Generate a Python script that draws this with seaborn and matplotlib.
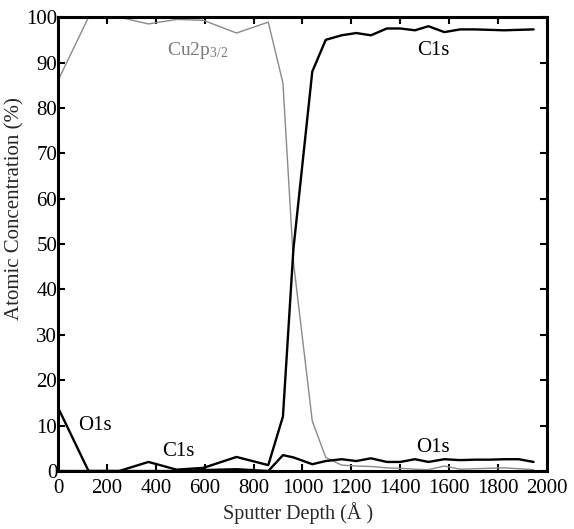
import matplotlib
matplotlib.use("Agg")
import matplotlib.pyplot as plt
import seaborn as sns
import pandas as pd

depth = [0, 125, 250, 370, 485, 595, 730, 860, 920, 963, 1040, 1095, 1160, 1220,
         1280, 1345, 1400, 1460, 1515, 1580, 1645, 1705, 1765, 1825, 1885, 1945]
cu2p = [86, 100, 100, 98.5, 99.5, 99.3, 96.5, 98.9, 85.5, 46, 11, 3.0, 1.3, 1.1,
        1.0, 0.7, 0.6, 0.4, 0.3, 1.1, 0.4, 0.5, 0.6, 0.7, 0.5, 0.3]
c1s = [0, 0, 0, 2.0, 0.3, 0.7, 3.1, 1.3, 12, 49, 88, 95, 96, 96.5,
       96, 97.5, 97.5, 97.1, 98, 96.7, 97.3, 97.3, 97.2, 97.1, 97.2, 97.3]
o1s = [14, 0, 0, 0, 0, 0.2, 0.4, 0, 3.5, 3.0, 1.5, 2.2, 2.6, 2.2,
       2.8, 2.0, 2.0, 2.6, 2.0, 2.6, 2.4, 2.5, 2.5, 2.6, 2.6, 2.0]

xticks = [0, 200, 400, 600, 800, 1000, 1200, 1400, 1600, 1800, 2000]
yticks = [0, 10, 20, 30, 40, 50, 60, 70, 80, 90, 100]

sns.set_style("ticks")
plt.rcParams['font.family'] = ['Liberation Serif', 'DejaVu Serif']
plt.rcParams['mathtext.fontset'] = 'custom'
plt.rcParams['mathtext.rm'] = 'Liberation Serif'
plt.rcParams['mathtext.it'] = 'Liberation Serif:italic'

df = pd.DataFrame({"depth": depth, "Cu2p": cu2p, "C1s": c1s, "O1s": o1s})

fig = plt.figure(figsize=(5.74, 5.29), dpi=100)
ax = fig.add_axes([0.101, 0.1096, 0.852, 0.858])

sns.lineplot(data=df, x="depth", y="Cu2p", ax=ax, color="#8a8a8a", lw=1.0, sort=False)
sns.lineplot(data=df, x="depth", y="C1s", ax=ax, color="black", lw=1.7, sort=False)
sns.lineplot(data=df, x="depth", y="O1s", ax=ax, color="black", lw=1.7, sort=False)

ax.set_xlim(0, 2000)
ax.set_ylim(0, 100)
ax.set_xticks(xticks)
ax.set_yticks(yticks)
ax.tick_params(direction="in", top=True, right=True, length=5, width=1.5,
               labelsize=15, colors="black")
ax.tick_params(axis="y", pad=0.5)
ax.tick_params(axis="x", pad=6)
for s in ax.spines.values():
    s.set_linewidth(2.2)
    s.set_color("black")

ax.set_xlabel("Sputter Depth (Å )", fontsize=14.5)
ax.set_ylabel("Atomic Concentration (%)", fontsize=15)
ax.xaxis.set_label_coords(0.490, -0.069)
ax.yaxis.set_label_coords(-0.068, 0.579)

ax.text(569, 92.7, r"Cu2p$_{\mathrm{3/2}}$", color="#7a7a7a", fontsize=14, ha="center", va="center")
ax.text(1534, 92.7, "C1s", color="black", fontsize=15, ha="center", va="center")
ax.text(151, 10.1, "O1s", color="black", fontsize=15, ha="center", va="center")
ax.text(491, 4.2, "C1s", color="black", fontsize=15, ha="center", va="center")
ax.text(1534, 5.1, "O1s", color="black", fontsize=15, ha="center", va="center")

fig.savefig("out.png", dpi=100)
